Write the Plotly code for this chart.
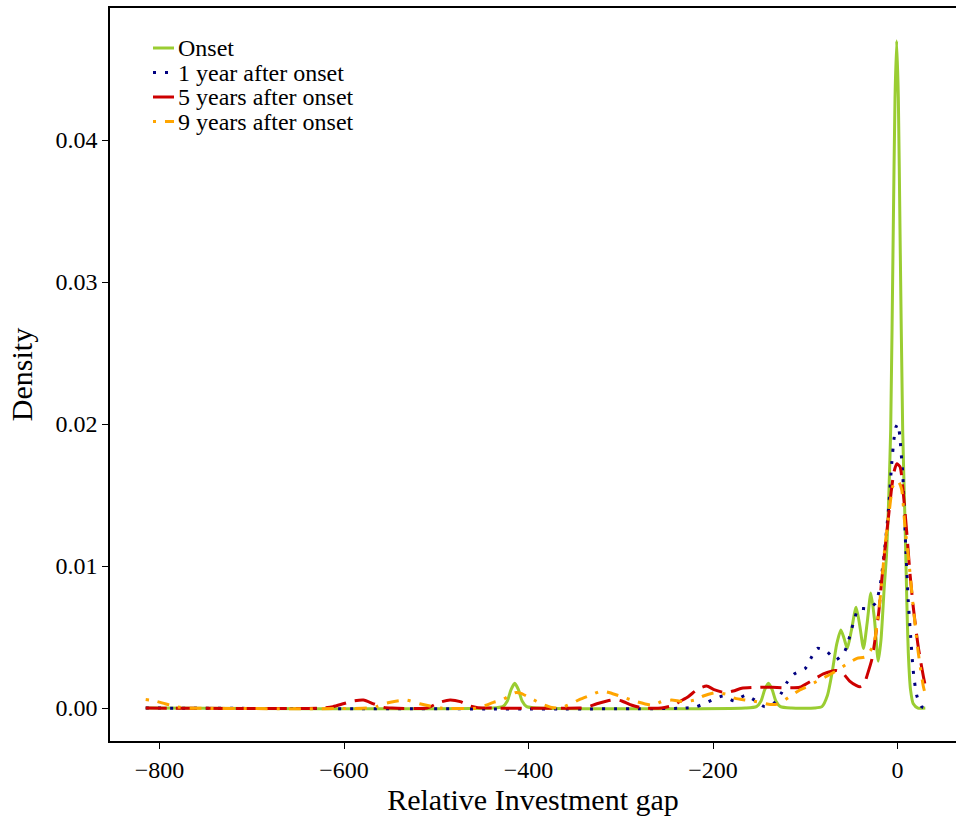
import plotly.graph_objects as go

# Density curves of the relative investment gap at four horizons
names = ["Onset", "1 year after onset", "5 years after onset", "9 years after onset"]

onset_x = [-815, -440, -428, -423, -419, -415, -411, -407, -402, -390,
           -165, -153, -148, -144, -140, -136, -132, -127, -115,
           -90, -82, -76, -71, -66, -61.5, -58, -54.5, -50, -45, -41, -37, -33, -29, -25,
           -21, -18, -14.5, -12, -9.5, -7.5, -4.7, -2.8, -1, 0.8, 2.6, 5.5, 8, 10, 11.6,
           14, 17, 22, 30]
onset_y = [0, 0, 0.0001, 0.0005, 0.0013, 0.00174, 0.0013, 0.0005, 0.0001, 0,
           0, 0.0001, 0.0005, 0.0013, 0.00174, 0.0013, 0.0005, 0.0001, 0,
           0, 0.0001, 0.0009, 0.0025, 0.0045, 0.0055, 0.0049, 0.0042, 0.0055, 0.0071,
           0.0058, 0.0042, 0.0060, 0.0081, 0.0062,
           0.0033, 0.0048, 0.0085, 0.0108, 0.0150, 0.0196, 0.0337, 0.0430, 0.0470,
           0.0430, 0.0337, 0.0196, 0.0132, 0.0075, 0.0039,
           0.0013, 0.0003, 0, 0]

y1_x = [-815, -230, -218, -210, -200, -189, -177, -165, -155, -144, -133, -125.6,
        -120, -112, -100, -94, -87, -77, -67, -58, -53.4, -50.5, -47, -42.6, -32.4,
        -23.7, -18.5, -13.7, -10, -6.4, -4, -1.7, 0.4, 2.3, 4.4, 5.5, 9.1, 11.6,
        14.2, 17, 20.7, 26, 30]
y1_y = [0, 0, 0.0001, 0.0003, 0.0006, 0.00085, 0.0005, 0.0009, 0.00056, 0.0001,
        0.0004, 0.0011, 0.0018, 0.0024, 0.0028, 0.0035, 0.0042, 0.0040, 0.0034,
        0.0039, 0.0047, 0.0054, 0.0062, 0.0070, 0.0070, 0.0074, 0.0088, 0.0114,
        0.0139, 0.0172, 0.0189, 0.0198, 0.0200, 0.0192, 0.0175, 0.0166, 0.0109,
        0.0075, 0.0050, 0.0026, 0.0009, 0.0001, 0]

y5_x = [-815, -625, -612, -601, -590, -579, -568, -557, -548, -510, -500, -494,
        -485, -474, -463, -455, -440, -345, -337, -326, -315, -306, -299, -288,
        -276, -256, -243, -235, -227, -216, -207, -199, -187, -178, -169, -149,
        -136, -124, -106, -95, -80.5, -67, -60, -52, -45, -40.8, -36, -33.5, -28,
        -24.5, -20.5, -17.2, -13.7, -10, -7, -4, -1, 2.6, 5.5, 10, 13.4, 17, 22.4,
        28, 31]
y5_y = [0, 0, 0.0001, 0.0003, 0.0005, 0.00056, 0.0003, 0.00005, 0, 0, 0.0003,
        0.00045, 0.00056, 0.00045, 0.00014, 0.00003, 0, 0, 0.00005, 0.0003, 0.0005,
        0.0006, 0.0005, 0.0002, 0, 0, 0.0002, 0.0005, 0.0008, 0.00136, 0.00155,
        0.0013, 0.00108, 0.0012, 0.00139, 0.00146, 0.00146, 0.00143, 0.00146,
        0.00185, 0.0024, 0.00265, 0.0025, 0.0019, 0.0016, 0.0015, 0.0017, 0.0022,
        0.0034, 0.0048, 0.0067, 0.0090, 0.0112, 0.0134, 0.0152, 0.0166, 0.0172,
        0.0170, 0.0156, 0.0123, 0.0095, 0.0071, 0.0043, 0.0022, 0.0013]

y9_x = [-815, -805, -794, -788, -778, -770, -575, -565, -557, -547, -532, -518,
        -507, -495, -455, -446, -438, -429, -420, -414.7, -409, -398, -386, -375,
        -366, -354, -345, -333, -321, -312, -299, -283, -266, -254, -245, -232,
        -220, -210.6, -198, -185, -176, -164, -149, -138, -129, -117, -106, -100,
        -84, -68, -55, -44, -35, -26.3, -21.6, -17.2, -13.7, -9, -5.3, -1.7, 1.5,
        4.4, 8, 12.7, 17, 22.4, 28, 30]
y9_y = [0.0006, 0.0005, 0.0003, 0.0002, 0.00005, 0, 0, 0.0001, 0.0003, 0.00045,
        0.00056, 0.0003, 0.00014, 0, 0, 0.0002, 0.0004, 0.00056, 0.0009, 0.00108,
        0.00105, 0.0007, 0.0003, 0.00005, 0, 0.0003, 0.0006, 0.0009, 0.0012,
        0.00108, 0.0008, 0.00045, 0.0002, 0.0005, 0.00056, 0.00045, 0.00056,
        0.00085, 0.00108, 0.00096, 0.00068, 0.00056, 0.0004, 0.00025, 0.0003,
        0.0008, 0.00127, 0.00146, 0.0020, 0.00256, 0.0031, 0.0035, 0.0036, 0.0044,
        0.0062, 0.0088, 0.0114, 0.0139, 0.0156, 0.0160, 0.0159, 0.0154, 0.0128,
        0.0100, 0.0071, 0.0039, 0.0015, 0.0010]

x_ticks = [-800, -600, -400, -200, 0]
y_ticks = [0.00, 0.01, 0.02, 0.03, 0.04]
y_tick_text = ["0.00", "0.01", "0.02", "0.03", "0.04"]

series_x = [onset_x, y1_x, y5_x, y9_x]
series_y = [onset_y, y1_y, y5_y, y9_y]
colors = ["#9ACD32", "#000080", "#CD0000", "#FFA500"]
dashes = ["solid", "3px,9px", "21px,9px", "3px,9px,12px,9px"]

W, H = 956, 818
ML, MR, MT, MB = 110, 0, 8, 77
FONT = "Liberation Serif, Times New Roman, serif"

fig = go.Figure()
for nm, xs, ys, c, d in zip(names, series_x, series_y, colors, dashes):
    fig.add_trace(go.Scatter(
        x=xs, y=ys, mode="lines", name=nm, showlegend=False,
        line=dict(color=c, width=3, dash=d, shape="spline", smoothing=0.6),
    ))

# hand-built key in the upper left corner
def px_to_paper(px, py):
    return (px - ML) / (W - ML - MR), (H - MB - py) / (H - MT - MB)

for i, (nm, c, d) in enumerate(zip(names, colors, dashes)):
    cy = 48 + i * 24.5
    x0, yy = px_to_paper(153, cy)
    x1, _ = px_to_paper(174, cy)
    fig.add_shape(type="line", xref="paper", yref="paper", x0=x0, x1=x1, y0=yy, y1=yy,
                  line=dict(color=c, width=3, dash=d))
    tx, _ = px_to_paper(176, cy)
    fig.add_annotation(xref="paper", yref="paper", x=tx, y=yy, text=nm, showarrow=False,
                       xanchor="left", yanchor="middle",
                       font=dict(family=FONT, size=24, color="black"))

fig.update_layout(
    width=W, height=H,
    margin=dict(l=ML, r=MR, t=MT, b=MB, pad=0),
    paper_bgcolor="white", plot_bgcolor="white",
    font=dict(family=FONT, color="black"),
    showlegend=False,
)
fig.update_xaxes(
    range=[-853.7, 63.3], tickvals=x_ticks, showgrid=False, zeroline=False,
    showline=True, linecolor="black", linewidth=1.5, mirror=True,
    ticks="outside", ticklen=6, tickwidth=1.3, tickcolor="black",
    tickfont=dict(family=FONT, size=24, color="black"),
    title=dict(text="Relative Investment gap", font=dict(family=FONT, size=30), standoff=4),
)
fig.update_yaxes(
    range=[-0.00232, 0.0493], tickvals=y_ticks, ticktext=y_tick_text,
    showgrid=False, zeroline=False,
    showline=True, linecolor="black", linewidth=1.5,
    ticks="outside", ticklen=6, tickwidth=1.3, tickcolor="black",
    tickfont=dict(family=FONT, size=24, color="black"),
    title=dict(text="Density", font=dict(family=FONT, size=30), standoff=14),
)

fig.write_html("out.html")
